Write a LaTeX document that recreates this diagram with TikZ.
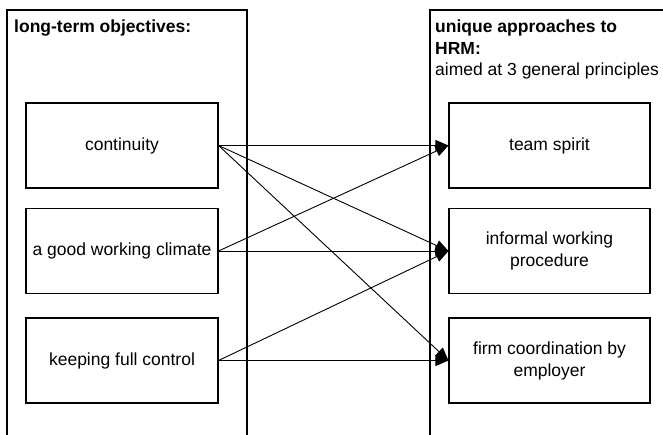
\documentclass[tikz,border=0pt]{standalone}
\usepackage{fontspec}
\setmainfont{Liberation Sans}
\usetikzlibrary{arrows.meta}
\begin{document}
\begin{tikzpicture}[x=1pt,y=-1pt,
  lbl/.style={font=\fontsize{17.5}{22}\selectfont, inner sep=0pt},
  ttl/.style={font=\fontsize{17.5}{22}\selectfont\bfseries, inner sep=0pt, anchor=base west},
  col/.style={line width=1.1pt},
  obox/.style={draw, line width=1.1pt, minimum width=192pt, minimum height=85pt, align=center, font=\fontsize{17.5}{22}\selectfont, inner sep=2pt},
  abox/.style={obox, minimum width=201pt},
  link/.style={line width=0.9pt, -{Triangle[length=13pt,width=11pt]}}
]
\useasboundingbox (0,0) rectangle (663,435);
\draw[col] (7,435) -- (7,10) -- (247,10) -- (247,435);
\draw[col] (430,435) -- (430,10) -- (663,10);
\node[ttl] (t1) at (14,33) {long-term objectives:};
\node[ttl] (t2) at (435,33) {unique approaches to};
\node[ttl] (t3) at (435,55) {HRM:};
\node[lbl, anchor=base west] (t4) at (435,76) {aimed at 3 general principles};
\node[obox] (o1) at (122,145.5) {continuity};
\node[obox] (o2) at (122,251) {a good working climate};
\node[obox] (o3) at (122,360.5) {keeping full control};
\node[abox] (a1) at (549.5,145.5) {team spirit};
\node[abox] (a2) at (549.5,251) {informal working\\procedure};
\node[abox] (a3) at (549.5,360.5) {firm coordination by\\employer};
\draw[link] (o1.east) -- (a1.west);
\draw[link] (o1.east) -- (a2.west);
\draw[link] (o1.east) -- (a3.west);
\draw[link] (o2.east) -- (a1.west);
\draw[link] (o2.east) -- (a2.west);
\draw[link] (o3.east) -- (a2.west);
\draw[link] (o3.east) -- (a3.west);
\end{tikzpicture}
\end{document}
